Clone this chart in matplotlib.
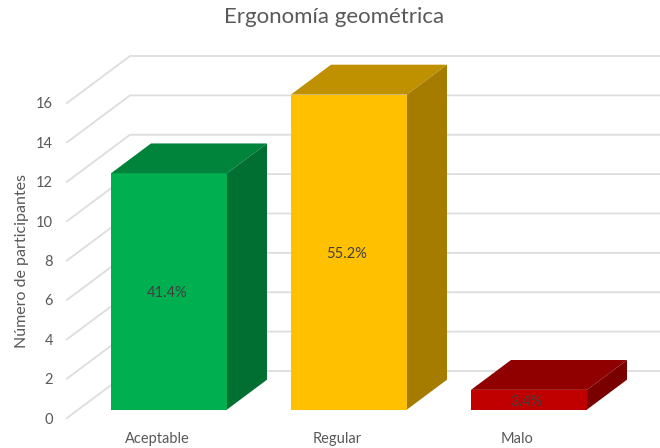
import matplotlib
matplotlib.use('Agg')
import matplotlib.pyplot as plt
from matplotlib.patches import Polygon

plt.rcParams['font.family'] = ['Lato', 'DejaVu Sans']

categories = ['Aceptable', 'Regular', 'Malo']
values = [12, 16, 1]
percents = ['41.4%', '55.2%', '3.4%']
yticks = [0, 2, 4, 6, 8, 10, 12, 14, 16]

front_colors = ['#00B050', '#FFC000', '#C00000']
top_colors = ['#00843C', '#BF9000', '#900000']
side_colors = ['#006F31', '#A67C00', '#7A0000']

W, H = 660, 448
fig = plt.figure(figsize=(W / 100, H / 100), dpi=100)
# front plane of the 3d box, in pixels
left, right, top, bottom = 67, 607, 103, 418
ax = fig.add_axes([left / W, 1 - bottom / H, (right - left) / W, (bottom - top) / H])
ax.set_xlim(-0.5, 2.5)
ax.set_ylim(0, 16)

# depth of the box in data units
dx = 63 / 180
dy = 47 / ((bottom - top) / 16)
bar_w = 116 / 180
f0, f1 = 0.18, 0.815  # where the bars start and end in the depth

for v in yticks:
    ax.plot([-0.5, -0.5 + dx, 3.0], [v, v + dy, v + dy], color='#DDDDDD', lw=1.3,
            clip_on=False, zorder=1, solid_joinstyle='miter')

for i, v in enumerate(values):
    x0 = i - bar_w / 2 + 12 / 180
    x1 = x0 + bar_w
    y0 = f0 * dy
    y1 = y0 + v
    sx = (f1 - f0) * dx
    sy = (f1 - f0) * dy
    ax.bar(x0, v, width=bar_w, bottom=y0, align='edge', color=front_colors[i],
           clip_on=False, zorder=3)
    ax.add_patch(Polygon([(x0, y1), (x1, y1), (x1 + sx, y1 + sy), (x0 + sx, y1 + sy)],
                         closed=True, color=top_colors[i], clip_on=False, zorder=3, lw=0))
    ax.add_patch(Polygon([(x1, y0), (x1 + sx, y0 + sy), (x1 + sx, y1 + sy), (x1, y1)],
                         closed=True, color=side_colors[i], clip_on=False, zorder=3, lw=0))
    ax.text((x0 + x1) / 2 - 0.012, y0 + v / 2 - 0.1, percents[i], ha='center', va='center',
            fontsize=10.5, color='#404040', zorder=4)

for s in ax.spines.values():
    s.set_visible(False)
ax.set_xticks(range(len(categories)))
ax.set_xticklabels(categories)
ax.set_yticks(yticks)
ax.tick_params(axis='both', length=0, labelsize=10.5, labelcolor='#595959')
ax.tick_params(axis='y', pad=10)
ax.tick_params(axis='x', pad=10)
ax.set_ylabel('Número de participantes', fontsize=11.5, color='#595959', labelpad=5)

fig.text(334 / W, 1 - 17 / H, 'Ergonomía geométrica', ha='center', va='center',
         fontsize=16, color='#595959')

fig.savefig('out.png', dpi=100)
